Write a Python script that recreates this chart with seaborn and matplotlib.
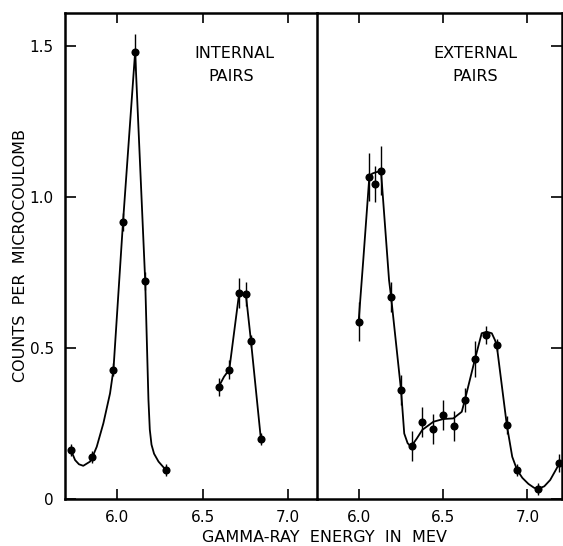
import matplotlib
matplotlib.use("Agg")
import matplotlib.pyplot as plt
import seaborn as sns

# ---------------- data ----------------
# Internal pairs: measured points
int_x = [5.728, 5.853, 5.977, 6.033, 6.104, 6.163, 6.286, 6.593, 6.656, 6.714, 6.753, 6.783, 6.841]
int_y = [0.162, 0.138, 0.429, 0.917, 1.481, 0.723, 0.095, 0.371, 0.429, 0.683, 0.678, 0.523, 0.199]
int_err = [0.02, 0.02, 0.02, 0.03, 0.06, 0.03, 0.02, 0.03, 0.03, 0.05, 0.04, 0.02, 0.02]

# Internal pairs: hand-drawn curves (vertices)
int_c1_x = [5.728, 5.752, 5.775, 5.80, 5.84, 5.853, 5.879, 5.918, 5.957, 5.977, 6.033, 6.104,
            6.163, 6.182, 6.190, 6.200, 6.215, 6.241, 6.286]
int_c1_y = [0.162, 0.129, 0.115, 0.110, 0.124, 0.138, 0.173, 0.251, 0.350, 0.429, 0.917, 1.481,
            0.723, 0.330, 0.230, 0.180, 0.150, 0.124, 0.095]
int_c2_x = [6.593, 6.625, 6.656, 6.714, 6.753, 6.783, 6.841]
int_c2_y = [0.371, 0.405, 0.429, 0.683, 0.678, 0.523, 0.199]

# External pairs: measured points
ext_x = [6.000, 6.063, 6.097, 6.132, 6.192, 6.251, 6.314, 6.377, 6.439, 6.502, 6.567, 6.629,
         6.690, 6.753, 6.818, 6.878, 6.939, 7.065, 7.190]
ext_y = [0.588, 1.066, 1.044, 1.088, 0.670, 0.361, 0.176, 0.256, 0.232, 0.279, 0.243, 0.327,
         0.465, 0.543, 0.510, 0.245, 0.096, 0.034, 0.118]
ext_err = [0.065, 0.08, 0.06, 0.08, 0.05, 0.05, 0.05, 0.05, 0.05, 0.05, 0.05, 0.04,
           0.06, 0.03, 0.02, 0.03, 0.02, 0.02, 0.03]

# External pairs: hand-drawn curve (vertices)
ext_c_x = [6.000, 6.027, 6.063, 6.080, 6.100, 6.120, 6.132, 6.180, 6.192, 6.251, 6.270, 6.290,
           6.310, 6.344, 6.377, 6.443, 6.502, 6.561, 6.611, 6.629, 6.690, 6.729, 6.759, 6.789,
           6.808, 6.818, 6.878, 6.910, 6.939, 6.970, 7.006, 7.040, 7.065, 7.100, 7.135, 7.190]
ext_c_y = [0.590, 0.790, 1.066, 1.078, 1.082, 1.085, 1.088, 0.725, 0.670, 0.361, 0.217, 0.185,
           0.173, 0.200, 0.229, 0.256, 0.265, 0.267, 0.289, 0.327, 0.465, 0.549, 0.554, 0.549,
           0.526, 0.510, 0.245, 0.140, 0.096, 0.070, 0.050, 0.037, 0.034, 0.042, 0.063, 0.118]

x_ticks = [6.0, 6.5, 7.0]
x_ticklabels = ["6.0", "6.5", "7.0"]
y_ticks = [0.0, 0.5, 1.0, 1.5]
y_ticklabels = ["0", "0.5", "1.0", "1.5"]

# ---------------- plot ----------------
sns.set_theme(style="ticks")
plt.rcParams["font.family"] = ["DejaVu Sans"]
for k in ("text.color", "axes.labelcolor", "xtick.color", "ytick.color", "axes.edgecolor"):
    plt.rcParams[k] = "black"

fig = plt.figure(figsize=(5.63, 5.46), dpi=100)
W, H = 563.0, 546.0
top, bot = 13.0, 499.0
axL = fig.add_axes([65 / W, (H - bot) / H, (317 - 65) / W, (bot - top) / H])
axR = fig.add_axes([317 / W, (H - bot) / H, (562 - 317) / W, (bot - top) / H])
axR.patch.set_alpha(0.0)

col = "black"

def draw(ax, curves, px, py, perr):
    for cx, cy in curves:
        sns.lineplot(x=cx, y=cy, ax=ax, color=col, lw=1.3, sort=False, estimator=None)
    ax.errorbar(px, py, yerr=perr, fmt="none", ecolor=col, elinewidth=1.0, capsize=0)
    sns.scatterplot(x=px, y=py, ax=ax, color=col, s=34, edgecolor=col, linewidth=0, zorder=5)

draw(axL, [(int_c1_x, int_c1_y), (int_c2_x, int_c2_y)], int_x, int_y, int_err)
draw(axR, [(ext_c_x, ext_c_y)], ext_x, ext_y, ext_err)

axL.set_xlim(5.693, 7.17)
axR.set_xlim(5.753, 7.205)
for ax in (axL, axR):
    ax.set_ylim(0, 1.61)
    ax.set_xticks(x_ticks)
    ax.set_xticklabels(x_ticklabels, fontsize=11)
    ax.set_yticks(y_ticks)
    for s in ax.spines.values():
        s.set_linewidth(1.8)
        s.set_color(col)
    ax.set_xlabel("")
    ax.set_ylabel("")

axL.set_yticklabels(y_ticklabels, fontsize=11)
axL.tick_params(axis="x", direction="in", top=True, bottom=True, length=7, width=1.2, pad=8)
axL.tick_params(axis="y", direction="in", left=True, right=False, length=8, width=1.2, pad=8)
axR.tick_params(axis="x", direction="in", top=True, bottom=True, length=7, width=1.2, pad=8)
axR.tick_params(axis="y", direction="in", left=False, right=True, labelleft=False,
                labelright=False, length=8, width=1.2)
axR.spines["left"].set_visible(False)

fig.text(234 / W, 1 - 54 / H, "INTERNAL", ha="center", va="center", fontsize=11.5)
fig.text(231 / W, 1 - 77 / H, "PAIRS", ha="center", va="center", fontsize=11.5)
fig.text(475 / W, 1 - 54 / H, "EXTERNAL", ha="center", va="center", fontsize=11.5)
fig.text(475 / W, 1 - 77 / H, "PAIRS", ha="center", va="center", fontsize=11.5)

fig.text(324 / W, 1 - 538 / H, "GAMMA-RAY  ENERGY  IN  MEV", ha="center", va="center", fontsize=11.5)
fig.text(21 / W, 1 - 255 / H, "COUNTS  PER  MICROCOULOMB", ha="center", va="center",
         rotation=90, fontsize=11.5)

fig.savefig("out.png", dpi=100, facecolor="white")
